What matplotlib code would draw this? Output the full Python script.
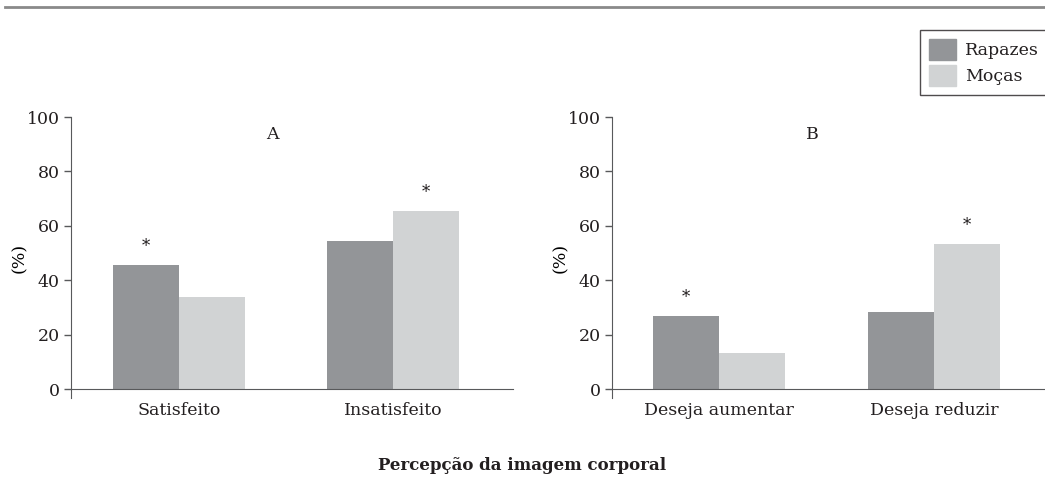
import numpy as np
import matplotlib
matplotlib.use("Agg")
import matplotlib.pyplot as plt
from matplotlib.patches import Patch
from matplotlib.lines import Line2D

# dados
cats_a = ["Satisfeito", "Insatisfeito"]
rapazes_a = [45.6, 54.5]
mocas_a = [33.8, 65.4]
star_a = ["rapazes", "mocas"]

cats_b = ["Deseja aumentar", "Deseja reduzir"]
rapazes_b = [26.8, 28.3]
mocas_b = [13.2, 53.3]
star_b = ["rapazes", "mocas"]

yticks = [0, 20, 40, 60, 80, 100]

c_rap = "#939598"
c_moc = "#d1d3d4"
c_txt = "#231f20"
c_ax = "#58595b"

plt.rcParams["font.family"] = ["DejaVu Serif"]
plt.rcParams["text.color"] = c_txt

fig = plt.figure(figsize=(10.45, 4.79), dpi=100)

bottom = 1 - 398 / 479
height = (398 - 117) / 479
ax1 = fig.add_axes([71 / 1045, bottom, (513 - 71) / 1045, height])
ax2 = fig.add_axes([612 / 1045, bottom, (1045 - 612) / 1045, height])

w = 0.308

def painel(ax, cats, rap, moc, star, letra, xlim):
    x = np.arange(len(cats))
    ax.bar(x - w / 2, rap, w, color=c_rap, zorder=2)
    ax.bar(x + w / 2, moc, w, color=c_moc, zorder=2)
    for i, s in enumerate(star):
        if s == "rapazes":
            xi, yi = x[i] - w / 2, rap[i]
        else:
            xi, yi = x[i] + w / 2, moc[i]
        ax.annotate("*", (xi, yi), xytext=(0, 7), textcoords="offset points",
                    ha="center", va="bottom", fontsize=12, color=c_txt)
    ax.set_xlim(*xlim)
    ax.set_ylim(-3.3, 100)
    ax.set_yticks(yticks)
    ax.set_xticks(x)
    ax.set_xticklabels(cats)
    ax.tick_params(axis="x", length=0, pad=9, labelsize=12.5, labelcolor=c_txt)
    ax.tick_params(axis="y", length=5, width=1, color=c_ax, labelsize=12.5,
                   labelcolor=c_txt, pad=3)
    for sp in ["top", "right"]:
        ax.spines[sp].set_visible(False)
    ax.spines["bottom"].set_position(("data", 0))
    ax.spines["bottom"].set_color(c_ax)
    ax.spines["left"].set_color(c_ax)
    ax.spines["left"].set_bounds(-3.3, 100)
    ax.set_ylabel("(%)", fontsize=12.5, labelpad=-1)
    ax.text(0.435, 93.7, letra, ha="center", va="center", fontsize=12.5)
    ax.set_facecolor("none")

painel(ax1, cats_a, rapazes_a, mocas_a, star_a, "A", (-0.505, 1.561))
painel(ax2, cats_b, rapazes_b, mocas_b, star_b, "B", (-0.498, 1.516))

# linha do topo
fig.add_artist(Line2D([5 / 1045, 1], [1 - 6.5 / 479, 1 - 6.5 / 479],
                      color="#8a8a8a", lw=2))

handles = [Patch(color=c_rap, label="Rapazes"), Patch(color=c_moc, label="Moças")]
leg = fig.legend(handles=handles, loc="upper left",
                 bbox_to_anchor=(920 / 1045, 1 - 30 / 479),
                 frameon=True, fancybox=False, fontsize=12.5,
                 handlelength=1.6, handleheight=1.5, handletextpad=0.5,
                 labelspacing=0.3, borderpad=0.5, borderaxespad=0)
leg.get_frame().set_edgecolor("#231f20")
leg.get_frame().set_linewidth(1)

fig.text(522 / 1045, 1 - 466 / 479, "Percepção da imagem corporal",
         ha="center", va="center", fontsize=12, fontweight="bold")

fig.savefig("out.png", dpi=100)
